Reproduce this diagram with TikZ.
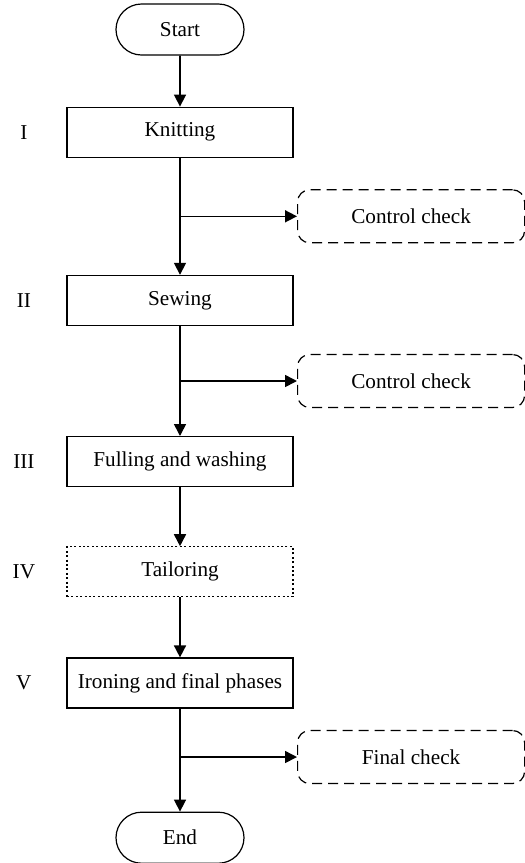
\documentclass[tikz,border=0pt]{standalone}
\usepackage{fontspec}
\setmainfont{Liberation Serif}
\usetikzlibrary{calc,positioning,arrows.meta,shapes.misc}
\tikzset{
>={Triangle[length=6pt,width=6pt]},
  terminal/.style={
    rounded rectangle,
    draw=black, semithick,
    minimum width=64pt,
    minimum height=25.5pt,
    inner sep=0pt},
  procbox/.style={
    rectangle,
    draw=black, semithick,
    minimum width=113pt,
    minimum height=25pt,
    inner sep=0pt},
  dotbox/.style={procbox, dash pattern=on 1pt off 1.2pt},
  checkbox/.style={
    rectangle,
    rounded corners=6pt,
    draw=black, semithick,
    dash pattern=on 5pt off 3pt,
    minimum width=113.5pt,
    minimum height=26.5pt,
    inner sep=0pt},
  stagelbl/.style={inner sep=0pt},
  line/.style={draw, thick, ->},
}

\begin{document}
\begin{tikzpicture}
  [font=\fontsize{10.6}{13}\selectfont]
  \useasboundingbox (0,0) rectangle (262.5pt,-431.5pt);
  % main column
  \node[terminal] (start) at (90pt,-14.75pt) {Start};
  \node[procbox, below=25.5pt of start] (knit) {Knitting};
  \node[procbox, below=58.5pt of knit] (sew) {Sewing};
  \node[procbox, below=55pt of sew] (full) {Fulling and washing};
  \node[dotbox, below=29.5pt of full] (tail) {Tailoring};
  \node[procbox, below=30pt of tail] (iron) {Ironing and final phases};
  \node[terminal, below=51.5pt of iron] (end) {End};
  % stage numbers
  \node[stagelbl] (lbl1) at ([xshift=-21.25pt]knit.west) {I};
  \node[stagelbl] (lbl2) at ([xshift=-21.25pt]sew.west) {II};
  \node[stagelbl] (lbl3) at ([xshift=-21.25pt]full.west) {III};
  \node[stagelbl] (lbl4) at ([xshift=-21.25pt]tail.west) {IV};
  \node[stagelbl] (lbl5) at ([xshift=-21.25pt]iron.west) {V};
  % checks
  \coordinate (b1) at ($(knit.south)!.5!(sew.north)$);
  \coordinate (b2) at ($(sew.south)!.5!(full.north)$);
  \coordinate (b3) at ($(iron.south)!.47!(end.north)$);
  \node[checkbox, right=58.5pt of b1] (chk1) {Control check};
  \node[checkbox, right=58.5pt of b2] (chk2) {Control check};
  \node[checkbox, right=58.5pt of b3] (chk3) {Final check};
  % connectors
  \draw[line] (start) -- (knit);
  \draw[line] (knit) -- (sew);
  \draw[line] (sew) -- (full);
  \draw[line] (full) -- (tail);
  \draw[line] (tail) -- (iron);
  \draw[line] (iron) -- (end);
  \draw[line] (b1) -- (chk1);
  \draw[line] (b2) -- (chk2);
  \draw[line] (b3) -- (chk3);
\end{tikzpicture}
\end{document}
